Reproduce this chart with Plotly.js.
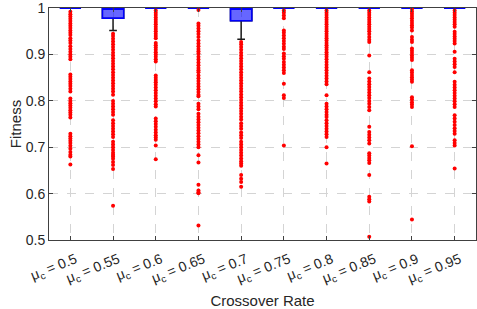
<!DOCTYPE html>
<html>
<head>
<meta charset="utf-8">
<script src="https://cdn.plot.ly/plotly-3.0.1.min.js"></script>
<style>html,body{margin:0;padding:0;background:#fff;}#chart{width:477px;height:309px;}</style>
</head>
<body>
<div id="chart"></div>
<script>
// Crossover-rate categories and tick labels
var rates = ["0.5","0.55","0.6","0.65","0.7","0.75","0.8","0.85","0.9","0.95"];
var tickLabels = ["μ<sub>c</sub> = 0.5","μ<sub>c</sub> = 0.55","μ<sub>c</sub> = 0.6","μ<sub>c</sub> = 0.65","μ<sub>c</sub> = 0.7","μ<sub>c</sub> = 0.75","μ<sub>c</sub> = 0.8","μ<sub>c</sub> = 0.85","μ<sub>c</sub> = 0.9","μ<sub>c</sub> = 0.95"];
var yTickVals = [0.5, 0.6, 0.7, 0.8, 0.9, 1];
var yTickText = ["0.5", "0.6", "0.7", "0.8", "0.9", "1"];

// Box statistics per category
var q1 =         [1, 0.978, 1, 1, 0.973, 1, 1, 1, 1, 1];
var medians =    [1, 1,     1, 1, 1,     1, 1, 1, 1, 1];
var q3 =         [1, 1,     1, 1, 1,     1, 1, 1, 1, 1];
var lowerFence = [1, 0.952, 1, 1, 0.933, 1, 1, 1, 1, 1];
var upperFence = [1, 1,     1, 1, 1,     1, 1, 1, 1, 1];

// Outliers per category
var out050 = [0.992,0.987,0.982,0.977,0.972,0.967,0.962,0.957,0.952,0.947,0.942,0.935,0.930,0.925,0.918,0.912,0.906,0.900,0.895,0.890,0.857,0.852,0.847,0.842,0.837,0.832,0.826,0.820,0.805,0.800,0.795,0.790,0.785,0.780,0.775,0.770,0.764,0.729,0.724,0.719,0.714,0.709,0.703,0.697,0.690,0.684,0.680,0.663];
var out055 = [0.945,0.940,0.934,0.928,0.922,0.916,0.910,0.904,0.898,0.892,0.886,0.880,0.874,0.868,0.862,0.856,0.850,0.844,0.838,0.832,0.826,0.820,0.813,0.800,0.794,0.788,0.782,0.776,0.770,0.758,0.752,0.746,0.740,0.734,0.728,0.722,0.712,0.706,0.700,0.694,0.688,0.684,0.680,0.675,0.668,0.662,0.653,0.574];
var out060 = [0.995,0.990,0.985,0.980,0.975,0.970,0.965,0.960,0.955,0.950,0.945,0.940,0.935,0.925,0.920,0.915,0.910,0.905,0.900,0.895,0.890,0.885,0.855,0.850,0.845,0.840,0.835,0.829,0.823,0.817,0.811,0.805,0.799,0.793,0.788,0.762,0.756,0.750,0.744,0.738,0.732,0.726,0.721,0.716,0.704,0.674];
var out065 = [0.996,0.967,0.962,0.956,0.950,0.944,0.938,0.930,0.924,0.918,0.912,0.907,0.902,0.895,0.889,0.883,0.877,0.871,0.866,0.862,0.855,0.849,0.843,0.837,0.831,0.825,0.819,0.813,0.810,0.794,0.788,0.782,0.772,0.766,0.760,0.754,0.748,0.742,0.736,0.730,0.724,0.718,0.712,0.706,0.700,0.683,0.667,0.619,0.607,0.603,0.601,0.531];
var out070 = [0.927,0.922,0.916,0.910,0.904,0.898,0.892,0.886,0.880,0.874,0.868,0.862,0.856,0.850,0.844,0.838,0.832,0.826,0.820,0.814,0.808,0.802,0.796,0.790,0.784,0.778,0.772,0.766,0.760,0.752,0.746,0.740,0.732,0.726,0.720,0.712,0.706,0.700,0.694,0.688,0.682,0.676,0.670,0.665,0.660,0.640,0.632,0.625,0.615];
var out075 = [0.995,0.990,0.984,0.978,0.952,0.947,0.941,0.935,0.929,0.923,0.917,0.912,0.902,0.896,0.891,0.884,0.878,0.872,0.866,0.860,0.837,0.812,0.806,0.704];
var out080 = [0.995,0.990,0.985,0.980,0.975,0.970,0.965,0.960,0.955,0.950,0.945,0.940,0.935,0.930,0.925,0.920,0.915,0.910,0.905,0.900,0.895,0.890,0.884,0.878,0.872,0.866,0.860,0.854,0.848,0.842,0.836,0.812,0.794,0.788,0.782,0.776,0.770,0.765,0.758,0.752,0.746,0.740,0.734,0.728,0.722,0.700,0.665];
var out085 = [0.995,0.990,0.985,0.980,0.975,0.970,0.965,0.960,0.955,0.950,0.944,0.938,0.932,0.927,0.898,0.862,0.848,0.842,0.836,0.830,0.824,0.818,0.812,0.806,0.800,0.794,0.787,0.780,0.744,0.733,0.727,0.721,0.715,0.708,0.687,0.682,0.677,0.672,0.666,0.640,0.593,0.588,0.583,0.507];
var out090 = [0.998,0.993,0.988,0.983,0.978,0.973,0.968,0.963,0.958,0.952,0.938,0.932,0.927,0.913,0.908,0.903,0.898,0.893,0.888,0.866,0.861,0.856,0.851,0.846,0.841,0.808,0.803,0.797,0.792,0.787,0.702,0.544];
var out095 = [0.995,0.990,0.985,0.980,0.975,0.970,0.965,0.960,0.949,0.944,0.939,0.934,0.929,0.924,0.906,0.891,0.885,0.879,0.873,0.862,0.841,0.835,0.829,0.823,0.817,0.811,0.805,0.799,0.793,0.787,0.769,0.762,0.755,0.748,0.741,0.735,0.729,0.715,0.709,0.704,0.654];
var outliers = [out050,out055,out060,out065,out070,out075,out080,out085,out090,out095];

var xs = rates.map(function(_, i){ return i; });

// whisker trace (black), only where whiskers exist
var wx = [], wq1 = [], wmed = [], wq3 = [], wlf = [], wuf = [];
for (var i = 0; i < rates.length; i++) {
  if (lowerFence[i] < q1[i]) {
    wx.push(i); wq1.push(q1[i]); wmed.push(medians[i]); wq3.push(q3[i]); wlf.push(lowerFence[i]); wuf.push(upperFence[i]);
  }
}
var whiskers = {
  type: 'box', x: wx, q1: wq1, median: wmed, q3: wq3, lowerfence: wlf, upperfence: wuf,
  width: 0.5, whiskerwidth: 0.36, fillcolor: 'rgba(0,0,0,0)',
  line: {color: '#1a1a1a', width: 1.5}, boxpoints: false, hoverinfo: 'skip', showlegend: false
};
var boxes = {
  type: 'box', x: xs, q1: q1, median: medians, q3: q3, lowerfence: q1, upperfence: upperFence,
  width: 0.5, whiskerwidth: 0, fillcolor: 'rgba(0,0,255,0.6)',
  line: {color: '#0000ff', width: 1.5}, boxpoints: false, showlegend: false
};
var ox = [], oy = [];
outliers.forEach(function(arr, i){ arr.forEach(function(v){ ox.push(i); oy.push(v); }); });
var pts = {
  type: 'scatter', mode: 'markers', x: ox, y: oy,
  marker: {color: '#ff0000', size: 4, line: {width: 0}}, showlegend: false, cliponaxis: false
};

var fam = 'Liberation Sans, Arial, sans-serif';
var axisFont = {family: fam, size: 14, color: '#262626'};
var layout = {
  width: 477, height: 309,
  margin: {l: 49, r: 1, t: 8, b: 69},
  paper_bgcolor: '#fff', plot_bgcolor: '#fff',
  boxmode: 'overlay',
  font: axisFont,
  xaxis: {
    range: [-0.5, 9.5], tickmode: 'array', tickvals: xs, ticktext: tickLabels,
    tickangle: -22, tickfont: axisFont, ticklabelstandoff: 5, ticklabelshift: 5,
    showgrid: true, gridcolor: '#d4d4d4', griddash: 'dash', gridwidth: 1,
    zeroline: false, showline: true, linecolor: '#404040', linewidth: 1, mirror: 'ticks',
    ticks: 'inside', ticklen: 4, tickcolor: '#404040',
    title: {text: 'Crossover Rate', font: {family: fam, size: 15, color: '#262626'}, standoff: 11},
    automargin: false
  },
  yaxis: {
    range: [0.5, 1.0003], tickmode: 'array', tickvals: yTickVals, ticktext: yTickText,
    tickfont: axisFont,
    showgrid: true, gridcolor: '#d4d4d4', griddash: 'dash', gridwidth: 1,
    zeroline: false, showline: true, linecolor: '#404040', linewidth: 1, mirror: 'ticks',
    ticks: 'inside', ticklen: 4, tickcolor: '#404040',
    title: {text: 'Fitness', font: {family: fam, size: 15, color: '#262626'}, standoff: 0},
    automargin: false
  }
};
Plotly.newPlot('chart', [whiskers, boxes, pts], layout, {staticPlot: true, displayModeBar: false});
</script>
</body>
</html>
